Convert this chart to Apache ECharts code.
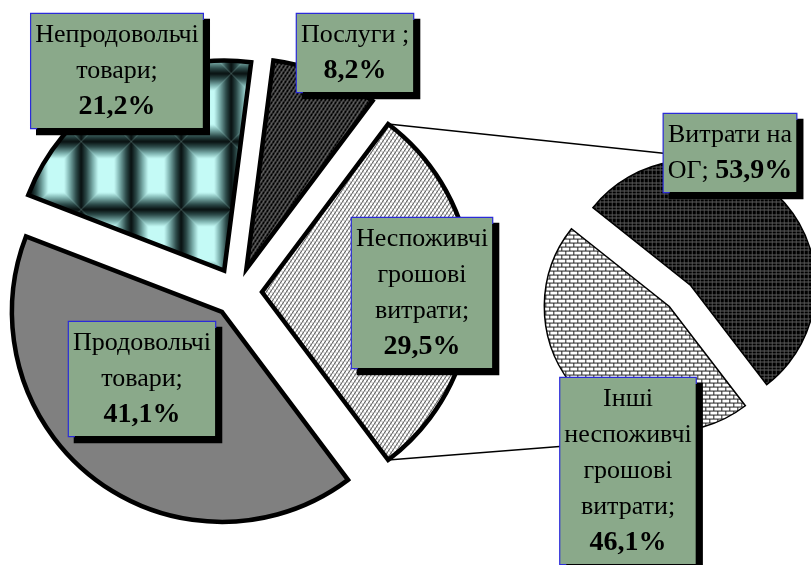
<!DOCTYPE html>
<html><head><meta charset="utf-8">
<script src="https://cdn.jsdelivr.net/npm/echarts@6/dist/echarts.min.js"></script>
<style>html,body{margin:0;padding:0;background:#fff}#chart{width:811px;height:565px}</style>
</head><body><div id="chart"></div>
<script>
// ---- data ----
const mainCategories = ['Неспоживчі грошові витрати', 'Продовольчі товари', 'Непродовольчі товари', 'Послуги'];
const mainValues = [29.5, 41.1, 21.2, 8.2];
const mainLabelLines = [['Неспоживчі', 'грошові', 'витрати;'], ['Продовольчі', 'товари;'], ['Непродовольчі', 'товари;'], ['Послуги ;']];
const mainInlinePct = [false, false, false, false];

const subCategories = ['Витрати на ОГ', 'Інші неспоживчі грошові витрати'];
const subValues = [53.9, 46.1];
const subLabelLines = [['Витрати на', 'ОГ; '], ['Інші', 'неспоживчі', 'грошові', 'витрати;']];
const subInlinePct = [true, false];

// ---- layout / style ----
const MAIN = { cx: 237, cy: 292, r: 210, offset: 25 };
const SUB = { cx: 680, cy: 296, r: 125, offset: 15, startAngle: 141.5 };
const mainLabelPos = [[422, 293], [142, 379], [117, 71], [355, 53]];
const subLabelPos = [[730, 153], [628, 471]];
const FONT = '"Liberation Serif", "Times New Roman", serif';

function makeCanvas(w, h, draw) {
  const c = document.createElement('canvas');
  c.width = w; c.height = h;
  draw(c.getContext('2d'), w, h);
  return c;
}
// tile pattern (non-food goods)
const tileCanvas = makeCanvas(50, 68, (ctx, w, h) => {
  const dark = '#081010', light = '#c4faf6';
  const ins = 17;
  ctx.fillStyle = light; ctx.fillRect(0, 0, w, h);
  function trap(pts, gx0, gy0, gx1, gy1) {
    const g = ctx.createLinearGradient(gx0, gy0, gx1, gy1);
    g.addColorStop(0, dark); g.addColorStop(0.3, '#2c4a49'); g.addColorStop(0.7, '#7fb3b0'); g.addColorStop(1, light);
    ctx.fillStyle = g; ctx.beginPath();
    ctx.moveTo(pts[0][0], pts[0][1]);
    for (let i = 1; i < pts.length; i++) ctx.lineTo(pts[i][0], pts[i][1]);
    ctx.closePath(); ctx.fill();
  }
  trap([[0, 0], [w, 0], [w - ins, ins], [ins, ins]], 0, 0, 0, ins);
  trap([[0, h], [w, h], [w - ins, h - ins], [ins, h - ins]], 0, h, 0, h - ins);
  trap([[0, 0], [ins, ins], [ins, h - ins], [0, h]], 0, 0, ins, 0);
  trap([[w, 0], [w - ins, ins], [w - ins, h - ins], [w, h]], w, 0, w - ins, 0);
});
const servicesCanvas = makeCanvas(4, 6, (ctx, w, h) => {
  ctx.fillStyle = '#000'; ctx.fillRect(0, 0, w, h);
  ctx.strokeStyle = '#a0a0a0'; ctx.lineWidth = 1;
  ctx.beginPath(); ctx.moveTo(0, h); ctx.lineTo(w, 0); ctx.stroke();
  ctx.strokeStyle = '#505050'; ctx.lineWidth = 0.8;
  ctx.beginPath(); ctx.moveTo(0, 0); ctx.lineTo(w, h); ctx.stroke();
});
const nonConsCanvas = makeCanvas(4, 6, (ctx, w, h) => {
  ctx.fillStyle = '#fff'; ctx.fillRect(0, 0, w, h);
  ctx.strokeStyle = '#505050'; ctx.lineWidth = 1;
  ctx.beginPath(); ctx.moveTo(0, h); ctx.lineTo(w, 0); ctx.stroke();
  ctx.strokeStyle = '#9a9a9a'; ctx.lineWidth = 0.7;
  ctx.beginPath(); ctx.moveTo(0, 0); ctx.lineTo(w, h); ctx.stroke();
});
const ogCanvas = makeCanvas(4, 8, (ctx, w, h) => {
  ctx.fillStyle = '#000'; ctx.fillRect(0, 0, w, h);
  ctx.fillStyle = '#4a4a4a'; ctx.fillRect(1, 0, 1, h);
  ctx.fillStyle = '#5e5e5e'; ctx.fillRect(0, 1, w, 1); ctx.fillRect(0, 4, w, 1);
});
const brickCanvas = makeCanvas(8, 8, (ctx, w, h) => {
  ctx.fillStyle = '#fff'; ctx.fillRect(0, 0, w, h);
  ctx.fillStyle = '#222';
  ctx.fillRect(0, 0, w, 1); ctx.fillRect(0, 4, w, 1);
  ctx.fillRect(0, 1, 1, 3); ctx.fillRect(4, 5, 1, 3);
});

const mainFills = [
  { image: nonConsCanvas, repeat: 'repeat' },
  '#808080',
  { image: tileCanvas, repeat: 'repeat', x: 44, y: 27 },
  { image: servicesCanvas, repeat: 'repeat' }
];
const subFills = [
  { image: ogCanvas, repeat: 'repeat' },
  { image: brickCanvas, repeat: 'repeat' }
];

function fmtPct(v) { return v.toFixed(1).replace('.', ',') + '%'; }
function labelText(lines, v, inline) {
  const parts = lines.map(l => '{n|' + l + '}');
  if (inline) parts[parts.length - 1] += '{b|' + fmtPct(v) + '}';
  else parts.push('{b|' + fmtPct(v) + '}');
  return parts.join('\n');
}
const labelBase = {
  show: true,
  position: 'inside',
  align: 'center',
  color: '#000',
  backgroundColor: '#8aa98a',
  borderColor: '#2b2bd9',
  borderWidth: 1.2,
  padding: [3, 4],
  shadowColor: '#000',
  shadowOffsetX: 6,
  shadowOffsetY: 6,
  shadowBlur: 0,
  rich: {
    n: { fontFamily: FONT, fontSize: 26, lineHeight: 36, color: '#000', align: 'center' },
    b: { fontFamily: FONT, fontSize: 28, fontWeight: 'bold', lineHeight: 36, color: '#000', align: 'center' }
  }
};

function pieBase(geo, startAngle) {
  return {
    type: 'pie',
    center: [geo.cx, geo.cy],
    radius: [0, geo.r],
    startAngle: startAngle,
    clockwise: true,
    avoidLabelOverlap: false,
    silent: true,
    emphasis: { disabled: true },
    labelLine: { show: false }
  };
}

// connector lines from the "other" slice corners to the secondary pie
const halfAng = mainValues[0] / 100 * Math.PI;
const cornerX = MAIN.cx + MAIN.offset + MAIN.r * Math.cos(halfAng);
const cornerTopY = MAIN.cy - MAIN.r * Math.sin(halfAng);
const cornerBotY = MAIN.cy + MAIN.r * Math.sin(halfAng);
const mainStart = mainValues[0] / 100 * 180;

const chart = echarts.init(document.getElementById('chart'), null, { renderer: 'canvas' });
chart.setOption({
  animation: false,
  backgroundColor: '#fff',
  graphic: [
    { type: 'line', z: 0, shape: { x1: cornerX, y1: cornerTopY, x2: SUB.cx, y2: SUB.cy - SUB.r - 16 }, style: { stroke: '#000', lineWidth: 1.6 } },
    { type: 'line', z: 0, shape: { x1: cornerX, y1: cornerBotY, x2: SUB.cx, y2: SUB.cy + SUB.r + 16 }, style: { stroke: '#000', lineWidth: 1.6 } }
  ],
  series: [
    // main pie: exploded slices
    Object.assign(pieBase(MAIN, mainStart), {
      z: 2,
      selectedMode: 'multiple',
      selectedOffset: MAIN.offset,
      itemStyle: { borderColor: '#000', borderWidth: 4.5, borderJoin: 'miter', borderMiterLimit: 10 },
      label: { show: false },
      data: mainCategories.map((name, i) => ({ name, value: mainValues[i], selected: true, itemStyle: { color: mainFills[i] } }))
    }),
    // secondary pie: exploded slices
    Object.assign(pieBase(SUB, SUB.startAngle), {
      z: 2,
      selectedMode: 'multiple',
      selectedOffset: SUB.offset,
      itemStyle: { borderColor: '#000', borderWidth: 1.5, borderJoin: 'miter' },
      label: { show: false },
      data: subCategories.map((name, i) => ({ name, value: subValues[i], selected: true, itemStyle: { color: subFills[i] } }))
    }),
    // label layers (transparent slices carrying the data labels)
    Object.assign(pieBase(MAIN, mainStart), {
      z: 5,
      itemStyle: { color: 'rgba(0,0,0,0)', borderWidth: 0 },
      label: Object.assign({}, labelBase, {
        formatter: p => labelText(mainLabelLines[p.dataIndex], mainValues[p.dataIndex], mainInlinePct[p.dataIndex])
      }),
      labelLayout: p => ({ x: mainLabelPos[p.dataIndex][0], y: mainLabelPos[p.dataIndex][1], align: 'center', verticalAlign: 'middle' }),
      data: mainCategories.map((name, i) => ({ name, value: mainValues[i] }))
    }),
    Object.assign(pieBase(SUB, SUB.startAngle), {
      z: 5,
      itemStyle: { color: 'rgba(0,0,0,0)', borderWidth: 0 },
      label: Object.assign({}, labelBase, {
        formatter: p => labelText(subLabelLines[p.dataIndex], subValues[p.dataIndex], subInlinePct[p.dataIndex])
      }),
      labelLayout: p => ({ x: subLabelPos[p.dataIndex][0], y: subLabelPos[p.dataIndex][1], align: 'center', verticalAlign: 'middle' }),
      data: subCategories.map((name, i) => ({ name, value: subValues[i] }))
    })
  ]
});
</script>
</body></html>
